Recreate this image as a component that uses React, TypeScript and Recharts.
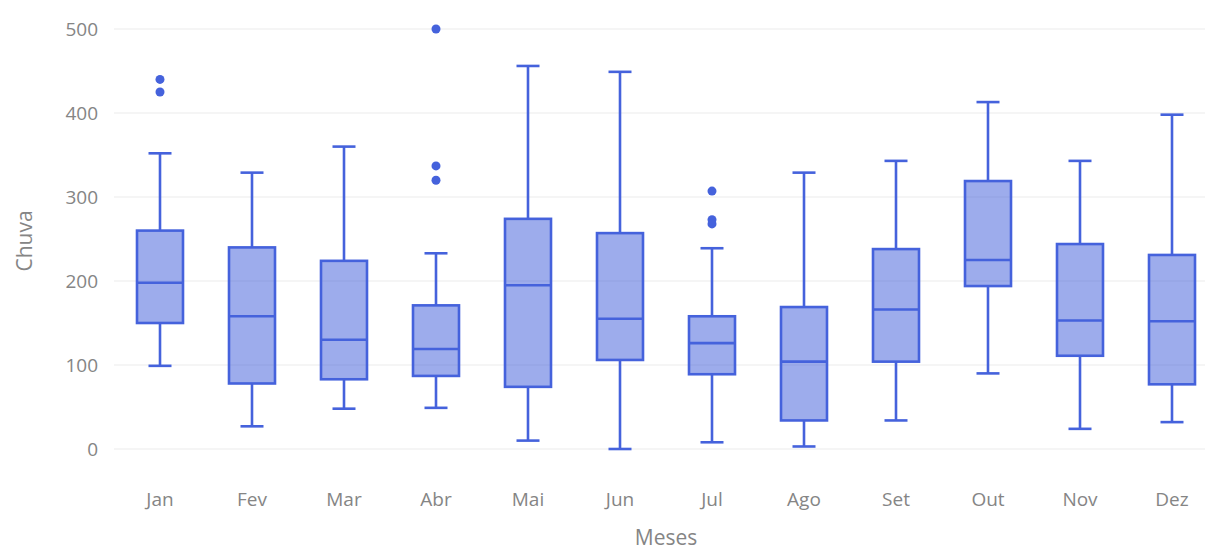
import React from "react";
import { ComposedChart, Bar, Line, XAxis, YAxis, CartesianGrid } from "recharts";

const MONTHS = ["Jan", "Fev", "Mar", "Abr", "Mai", "Jun", "Jul", "Ago", "Set", "Out", "Nov", "Dez"];

// caixa: mínimo, Q1, mediana, Q3, máximo (bigodes)
const MIN = [99, 27, 48, 49, 10, 0, 8, 3, 34, 90, 24, 32];
const Q1 = [150, 78, 83, 87, 74, 106, 89, 34, 104, 194, 111, 77];
const MEDIAN = [198, 158, 130, 119, 195, 155, 126, 104, 166, 225, 153, 152];
const Q3 = [260, 240, 224, 171, 274, 257, 158, 169, 238, 319, 244, 231];
const MAX = [352, 329, 360, 233, 456, 449, 239, 329, 343, 413, 343, 398];

// pontos fora dos bigodes
const OUT1 = [440, null, null, 500, null, null, 307, null, null, null, null, null];
const OUT2 = [425, null, null, 337, null, null, 273, null, null, null, null, null];
const OUT3 = [null, null, null, 320, null, null, 268, null, null, null, null, null];

const Y_TICKS = [0, 100, 200, 300, 400, 500];

const COLOR = "#4562DC";
const TEXT = "#858585";
const FONT = "'Open Sans', Arial, sans-serif";

const data = MONTHS.map((m, i) => ({
  month: m,
  min: MIN[i],
  q1: Q1[i],
  median: MEDIAN[i],
  q3: Q3[i],
  max: MAX[i],
  o1: OUT1[i],
  o2: OUT2[i],
  o3: OUT3[i],
}));

const BoxShape = (props: any) => {
  const { x, y, width, height, payload } = props;
  const top = Math.min(y, y + height);
  const bottom = Math.max(y, y + height);
  const { min, q1, median, q3, max } = payload;
  const px = (v: number) => bottom - ((v - min) / (max - min)) * (bottom - top);
  const cx = x + width / 2;
  const cap = width / 2;
  return (
    <g stroke={COLOR} strokeWidth={2.6}>
      <line x1={cx} x2={cx} y1={px(max)} y2={px(q3)} />
      <line x1={cx} x2={cx} y1={px(q1)} y2={px(min)} />
      <line x1={cx - cap / 2} x2={cx + cap / 2} y1={px(max)} y2={px(max)} />
      <line x1={cx - cap / 2} x2={cx + cap / 2} y1={px(min)} y2={px(min)} />
      <rect x={x} y={px(q3)} width={width} height={px(q1) - px(q3)} fill={COLOR} fillOpacity={0.53} />
      <line x1={x} x2={x + width} y1={px(median)} y2={px(median)} />
    </g>
  );
};

const dot = { r: 4.5, fill: COLOR, stroke: "none" };

export default function App() {
  return (
    <div style={{ position: "absolute", left: 0, top: 0, width: 1205, height: 551, overflow: "hidden", background: "#fff" }}>
      <ComposedChart width={1218} height={551} data={data} margin={{ top: 29, right: 0, left: 0, bottom: 0 }}>
        <CartesianGrid vertical={false} stroke="#ebebeb" />
        <XAxis
          dataKey="month"
          height={102}
          axisLine={false}
          tickLine={false}
          tickSize={6}
          tickMargin={38}
          tick={{ fontSize: 19, fill: TEXT, fontFamily: FONT }}
          label={{
            content: ({ viewBox }: any) => (
              <text x={viewBox.x + viewBox.width / 2} y={viewBox.y + viewBox.height - 6} textAnchor="middle" fontSize={21} fill={TEXT} fontFamily={FONT}>
                Meses
              </text>
            ),
          }}
        />
        <YAxis
          width={114}
          domain={[0, 500]}
          ticks={Y_TICKS}
          axisLine={false}
          tickLine={false}
          tickSize={6}
          tickMargin={10}
          tick={{ fontSize: 19, fill: TEXT, fontFamily: FONT }}
          label={{
            content: ({ viewBox }: any) => {
              const lx = 32;
              const ly = viewBox.y + viewBox.height / 2 + 2;
              return (
                <text x={lx} y={ly} transform={`rotate(-90 ${lx} ${ly})`} textAnchor="middle" fontSize={21} fill={TEXT} fontFamily={FONT}>
                  Chuva
                </text>
              );
            },
          }}
        />
        <Bar dataKey={(d: any) => [d.min, d.max]} barSize={46} shape={<BoxShape />} isAnimationActive={false} />
        <Line dataKey="o1" stroke="none" dot={dot} activeDot={false} isAnimationActive={false} />
        <Line dataKey="o2" stroke="none" dot={dot} activeDot={false} isAnimationActive={false} />
        <Line dataKey="o3" stroke="none" dot={dot} activeDot={false} isAnimationActive={false} />
      </ComposedChart>
    </div>
  );
}
